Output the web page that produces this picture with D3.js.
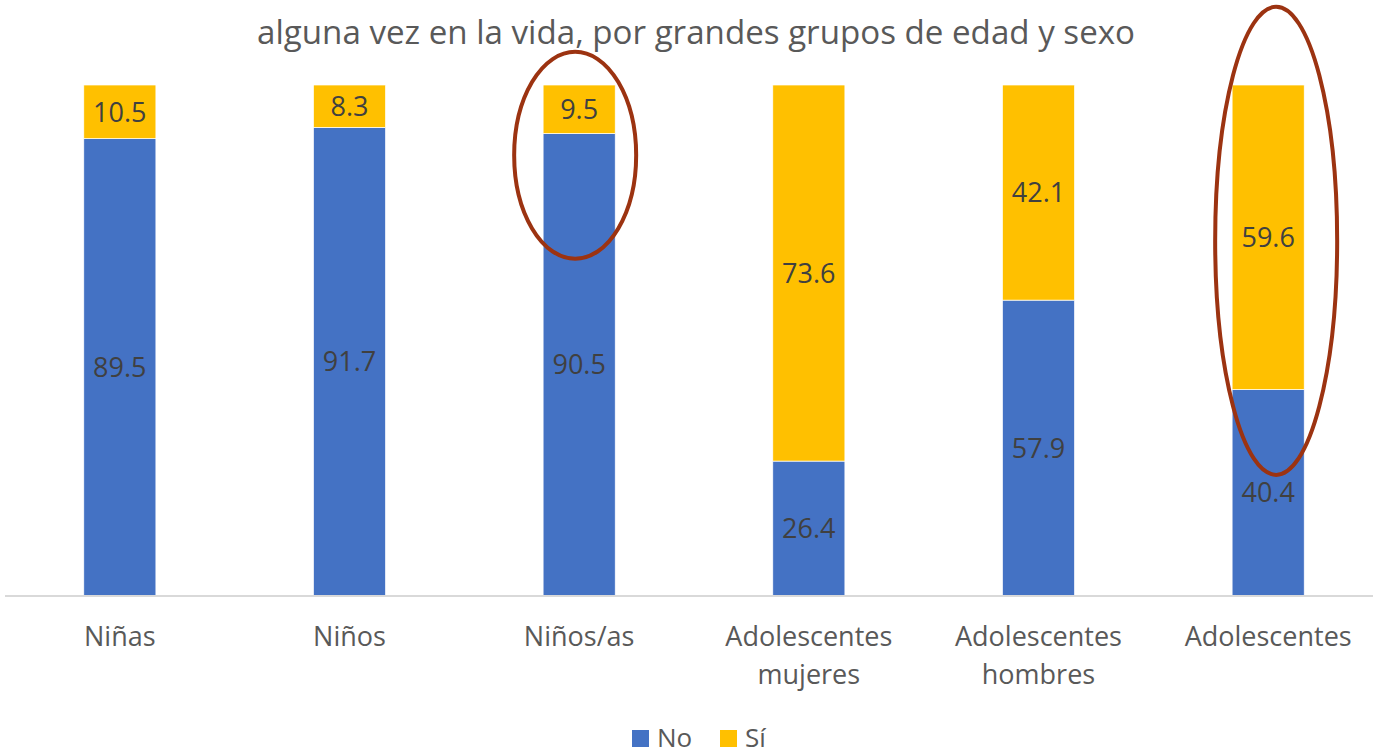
<!DOCTYPE html>
<html>
<head>
<meta charset="utf-8">
<script src="https://cdn.jsdelivr.net/npm/d3@7"></script>
<style>
  body { margin:0; background:#fff; }
  text { font-family: "Open Sans", "Noto Sans", sans-serif; }
</style>
</head>
<body>
<div id="chart"></div>
<script>
var categories = [['Niñas'], ['Niños'], ['Niños/as'], ['Adolescentes', 'mujeres'], ['Adolescentes', 'hombres'], ['Adolescentes']];
var noValues = [89.5, 91.7, 90.5, 26.4, 57.9, 40.4];
var siValues = [10.5, 8.3, 9.5, 73.6, 42.1, 59.6];
var seriesNames = ['No', 'Sí'];
var colors = ['#4472C4', '#FFC000'];
var titleLine = 'alguna vez en la vida, por grandes grupos de edad y sexo';
// highlighted groups (index, top value, bottom value of the ellipse)
var highlights = [[2, 106.5, 66], [5, 115.3, 23.7]];

var W = 1373, H = 755;
var svg = d3.select('#chart').append('svg').attr('width', W).attr('height', H);

var x = d3.scaleBand().domain(d3.range(categories.length)).range([5, 1383]).paddingInner(0.686).paddingOuter(0.343);
var y = d3.scaleLinear().domain([0, 100]).range([596, 85]);

var stacked = categories.map(function (c, i) {
  return [
    { s: 0, y0: 0, y1: noValues[i], v: noValues[i], i: i },
    { s: 1, y0: noValues[i], y1: noValues[i] + siValues[i], v: siValues[i], i: i }
  ];
});

svg.append('text')
  .attr('x', 696).attr('y', 44)
  .attr('text-anchor', 'middle')
  .attr('textLength', 878)
  .attr('lengthAdjust', 'spacingAndGlyphs')
  .style('font-size', '32px')
  .style('fill', '#595959')
  .text(titleLine);

var g = svg.append('g');

stacked.forEach(function (segs) {
  segs.forEach(function (d) {
    g.append('rect')
      .attr('x', x(d.i))
      .attr('width', x.bandwidth())
      .attr('y', y(d.y1))
      .attr('height', y(d.y0) - y(d.y1))
      .style('fill', colors[d.s])
      .style('stroke', '#fff')
      .style('stroke-width', 0.7);
    g.append('text')
      .attr('x', x(d.i) + x.bandwidth() / 2)
      .attr('y', (y(d.y0) + y(d.y1)) / 2)
      .attr('dy', '0.36em')
      .attr('text-anchor', 'middle')
      .style('font-size', '27px')
      .style('fill', '#404040')
      .text(d.v.toFixed(1));
  });
});

// axis line
svg.append('line')
  .attr('x1', 5).attr('x2', W)
  .attr('y1', y(0)).attr('y2', y(0))
  .style('stroke', '#d9d9d9').style('stroke-width', 2);

categories.forEach(function (lines, i) {
  var t = svg.append('text')
    .attr('x', x(i) + x.bandwidth() / 2)
    .attr('y', 646)
    .attr('text-anchor', 'middle')
    .style('font-size', '27px')
    .style('fill', '#595959');
  lines.forEach(function (l, k) {
    t.append('tspan').attr('x', x(i) + x.bandwidth() / 2).attr('dy', k == 0 ? 0 : 38).text(l);
  });
});

// ellipses
highlights.forEach(function (h) {
  var cy = (y(h[1]) + y(h[2])) / 2;
  svg.append('ellipse')
    .attr('cx', x(h[0]) + x.bandwidth() / 2 + (h[0] == 5 ? 8 : -4))
    .attr('cy', cy)
    .attr('rx', 61)
    .attr('ry', (y(h[2]) - y(h[1])) / 2)
    .style('fill', 'none')
    .style('stroke', '#9C3311')
    .style('stroke-width', 4);
});

// legend
var leg = svg.append('g');
var lx = [632, 720];
seriesNames.forEach(function (s, i) {
  leg.append('rect').attr('x', lx[i]).attr('y', 730).attr('width', 17).attr('height', 17).style('fill', colors[i]);
  leg.append('text').attr('x', lx[i] + 25).attr('y', 747)
    .style('font-size', '26px').style('fill', '#595959').text(s);
});
</script>
</body>
</html>
